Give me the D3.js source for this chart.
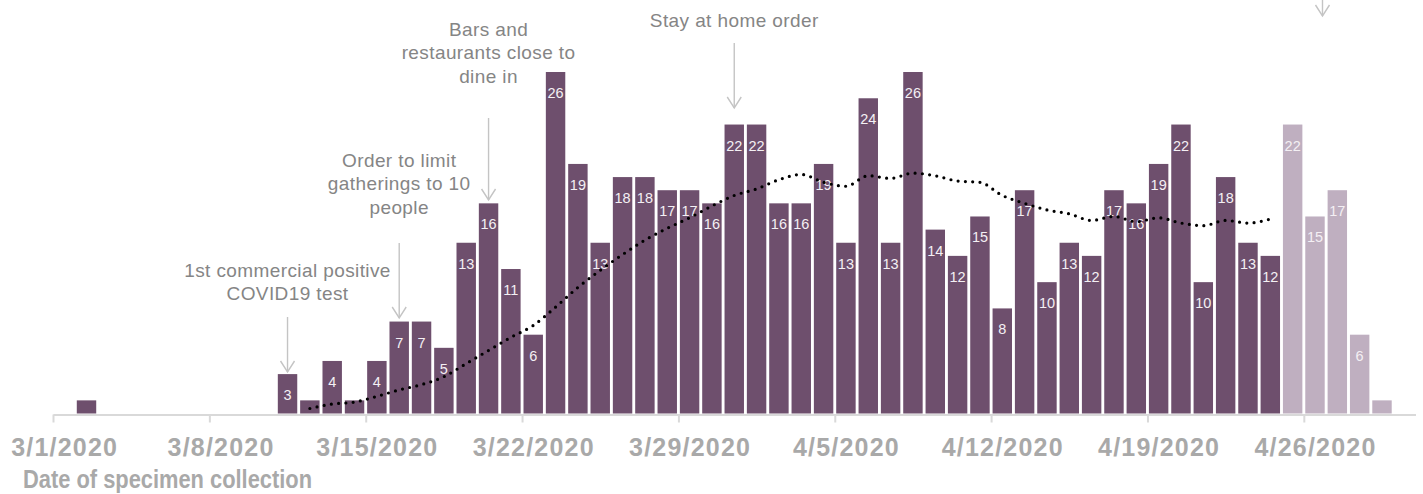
<!DOCTYPE html>
<html>
<head>
<meta charset="utf-8">
<script src="https://cdn.jsdelivr.net/npm/d3@7"></script>
<style>
  html, body { margin: 0; padding: 0; background: #ffffff; }
  svg { display: block; }
</style>
</head>
<body>
<div id="container"></div>
<script>
const width = 1423, height = 494;

// --- Data ------------------------------------------------------------------
// Daily positive specimens, 3/1/2020 .. 4/29/2020
const startDate = "2020-03-01";
const dailyCounts = [
  0, 1, 0, 0, 0, 0, 0, 0, 0, 0,          // 3/1 - 3/10
  3, 1, 4, 1, 4, 7, 7, 5, 13, 16,        // 3/11 - 3/20
  11, 6, 26, 19, 13, 18, 18, 17, 17, 16, // 3/21 - 3/30
  22,                                    // 3/31
  22, 16, 16, 19, 13, 24, 13, 26, 14, 12, // 4/1 - 4/10
  15, 8, 17, 10, 13, 12, 17, 16, 19, 22, // 4/11 - 4/20
  10, 18, 13, 12, 22, 15, 17, 6, 1       // 4/21 - 4/29
];
const provisionalFrom = "2020-04-25";

// Trend line (dotted), 3/12 .. 4/24
const trendStart = "2020-03-12";
const trendValues = [
  0.38, 0.72, 0.87, 1.3, 1.8, 2.2, 2.8, 3.8, 4.8, 5.8,
  6.7, 8.1, 9.6, 10.9, 12.1, 13.2, 14.1, 14.9, 15.8, 16.6,
  17.1, 17.8, 18.2, 17.6, 17.3, 18.1, 17.9, 18.3, 18.1, 17.7,
  17.6, 16.6, 16.0, 15.5, 15.2, 14.7, 15.0, 14.6, 14.9, 14.5,
  14.3, 14.7, 14.5, 14.8
];

// Event annotations
const eventDates = ["2020-03-11", "2020-03-16", "2020-03-20", "2020-03-31"];
const eventLabels = [
  ["1st commercial positive", "COVID19 test"],
  ["Order to limit", "gatherings to 10", "people"],
  ["Bars and", "restaurants close to", "dine in"],
  ["Stay at home order"]
];

const xTitle = "Date of specimen collection";

// --- Layout ---------------------------------------------------------------
const parse = d3.utcParse("%Y-%m-%d");
const dayMs = 864e5;
const x0 = parse(startDate);
const x1 = new Date(+x0 + 61 * dayMs); // through 4/30
const x = d3.scaleUtc().domain([x0, x1]).range([53, 1415.5]);
const band = x(new Date(+x0 + dayMs)) - x(x0);
const y = d3.scaleLinear().domain([0, 26]).range([413.5, 72]);

const colDark = "#6e4f6d";
const colLight = "#bfafc0";
const annColor = "#858585";
const arrowColor = "#c4c4c4";
const axisGray = "#d9d9d9";
const tickTextColor = "#a9a9a9";

const bars = dailyCounts.map((v, i) => ({
  date: new Date(+x0 + i * dayMs),
  value: v
}));
const provDate = parse(provisionalFrom);

const svg = d3.select("#container").append("svg")
  .attr("width", width).attr("height", height);

// --- Bars -------------------------------------------------------------------
const pad = 0.13;
const barW = band * (1 - pad);
const cx = (d) => x(d) + band / 2;

svg.append("g").selectAll("rect")
  .data(bars.filter((d) => d.value > 0))
  .join("rect")
  .attr("x", (d) => cx(d.date) - barW / 2)
  .attr("y", (d) => y(d.value))
  .attr("width", barW)
  .attr("height", (d) => y(0) - y(d.value))
  .attr("fill", (d) => (d.date >= provDate ? colLight : colDark));

// value labels
svg.append("g").selectAll("text")
  .data(bars.filter((d) => d.value > 1))
  .join("text")
  .attr("x", (d) => cx(d.date))
  .attr("y", (d) => y(d.value) + 26)
  .attr("text-anchor", "middle")
  .attr("fill", "#f4f0f4")
  .style("font-family", "'Liberation Sans', Arial, sans-serif")
  .style("font-size", "14.5px")
  .text((d) => d.value);

// --- Axis -------------------------------------------------------------------
const axis = svg.append("g")
  .attr("transform", `translate(0,${y(0) + 1})`)
  .call(d3.axisBottom(x)
    .ticks(d3.utcWeek.every(1))
    .tickSize(8)
    .tickSizeOuter(0)
    .tickFormat(d3.utcFormat("%-m/%-d/%Y")));
axis.select(".domain").attr("stroke", axisGray).attr("stroke-width", 2);
axis.selectAll(".tick line").attr("stroke", axisGray).attr("stroke-width", 2);
axis.selectAll(".tick").filter((d) => d >= x1).remove();
axis.selectAll(".tick text")
  .attr("x", band / 2)
  .attr("y", 41)
  .attr("dy", 0)
  .attr("fill", tickTextColor)
  .style("font-family", "'Liberation Sans', Arial, sans-serif")
  .style("font-weight", "bold")
  .style("font-size", "25px")
  .style("letter-spacing", "1.2px");

// axis title: narrow bold face, squeezed to the width seen in the original
svg.append("text")
  .attr("x", 23)
  .attr("y", 488)
  .attr("fill", tickTextColor)
  .attr("textLength", 289)
  .attr("lengthAdjust", "spacingAndGlyphs")
  .style("font-family", "'Liberation Sans', Arial, sans-serif")
  .style("font-weight", "bold")
  .style("font-size", "25px")
  .text(xTitle);

// --- Trend line (dotted) ------------------------------------------------------
const tStart = parse(trendStart);
const trend = trendValues.map((v, i) => ({ date: new Date(+tStart + i * dayMs), value: v }));
svg.append("path")
  .datum(trend)
  .attr("fill", "none")
  .attr("stroke", "#000")
  .attr("stroke-width", 3.2)
  .attr("stroke-linecap", "round")
  .attr("stroke-dasharray", "0,7.3")
  .attr("d", d3.line()
    .x((d) => cx(d.date))
    .y((d) => y(d.value))
    .curve(d3.curveMonotoneX));

// --- Annotations --------------------------------------------------------------
// arrow start / tip (px) and baseline of first text line per annotation
const annLayout = [
  { top: 317, tip: 372, text: 277 },
  { top: 243, tip: 318, text: 167 },
  { top: 118, tip: 200, text: 36 },
  { top: 43, tip: 108, text: 27 }
];
const lineH = 23.3;

function arrow(g, ax, top, tip) {
  g.append("line")
    .attr("x1", ax).attr("x2", ax).attr("y1", top).attr("y2", tip)
    .attr("stroke", arrowColor).attr("stroke-width", 1.4);
  g.append("path")
    .attr("d", `M${ax - 7},${tip - 11}L${ax},${tip}L${ax + 7},${tip - 11}`)
    .attr("fill", "none")
    .attr("stroke", arrowColor).attr("stroke-width", 1.4);
}

const ann = svg.append("g");
eventDates.forEach((ds, i) => {
  const ax = cx(parse(ds));
  const L = annLayout[i];
  arrow(ann, ax, L.top, L.tip);
  const t = ann.append("text")
    .attr("text-anchor", "middle")
    .attr("fill", annColor)
    .style("font-family", "'Liberation Sans', Arial, sans-serif")
    .style("font-size", "19px")
    .style("letter-spacing", "0.4px");
  eventLabels[i].forEach((line, j) => {
    t.append("tspan").attr("x", ax).attr("y", L.text + j * lineH).text(line);
  });
});

// cut-off annotation at the top right (text lies above the frame)
arrow(ann, cx(parse("2020-04-26")) + 7.5, -10, 16);
</script>
</body>
</html>
